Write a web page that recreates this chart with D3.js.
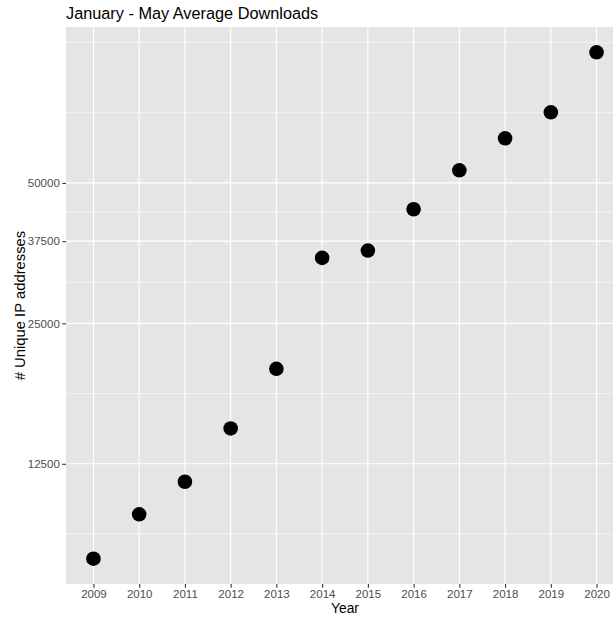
<!DOCTYPE html>
<html>
<head>
<meta charset="utf-8">
<script src="https://cdn.jsdelivr.net/npm/d3@7"></script>
<style>
  body { margin: 0; background: #fff; }
  text { font-family: "Liberation Sans", Arial, sans-serif; }
</style>
</head>
<body>
<div id="chart"></div>
<script>
// data
const years = ["2009", "2010", "2011", "2012", "2013", "2014", "2015", "2016", "2017", "2018", "2019", "2020"]
const ips = [7825, 9740, 11440, 14880, 19975, 34535, 35800, 43900, 53200, 62300, 70830, 95240]
const yBreaks = [12500, 25000, 37500, 50000]

const width = 613,
    height = 617
const margin = { top: 27, right: -11, bottom: 33, left: 66 }

const svg = d3.select("#chart")
    .append("svg")
    .attr("width", width)
    .attr("height", height)

const pw = width - margin.left - margin.right
const ph = height - margin.top - margin.bottom

const g = svg.append("g")
    .attr("transform", `translate(${margin.left},${margin.top})`)

// discrete x, like a factor in ggplot (0.6 units of padding)
const x = d3.scalePoint()
    .domain(years)
    .range([0, pw])
    .padding(0.6)

// log y with 5% expansion
const lo = Math.log10(d3.min(ips)), hi = Math.log10(d3.max(ips))
const pad = (hi - lo) * 0.05
const y = d3.scaleLog()
    .domain([Math.pow(10, lo - pad), Math.pow(10, hi + pad)])
    .range([ph, 0])

// minor breaks: midpoints in log space, extended by the first step
const lb = yBreaks.map(Math.log10)
const step = lb[1] - lb[0]
const ext = [lb[0] - step, ...lb, lb[lb.length - 1] + step]
const minor = []
for (let i = 0; i < ext.length - 1; i++) minor.push((ext[i] + ext[i + 1]) / 2)
const [dlo, dhi] = y.domain().map(Math.log10)
const minorVals = minor.concat(ext).filter(v => v > dlo && v < dhi && !lb.includes(v)).map(v => Math.pow(10, v))

g.append("rect")
    .attr("width", pw)
    .attr("height", ph)
    .attr("fill", "#E5E5E5")

g.selectAll(".minor")
    .data(minorVals)
    .join("line")
    .attr("x1", 0).attr("x2", pw)
    .attr("y1", d => y(d)).attr("y2", d => y(d))
    .attr("stroke", "#fff")
    .attr("stroke-width", 0.55)

g.selectAll(".hmajor")
    .data(yBreaks)
    .join("line")
    .attr("x1", 0).attr("x2", pw)
    .attr("y1", d => y(d)).attr("y2", d => y(d))
    .attr("stroke", "#fff")
    .attr("stroke-width", 1.1)

g.selectAll(".vmajor")
    .data(years)
    .join("line")
    .attr("x1", d => x(d)).attr("x2", d => x(d))
    .attr("y1", 0).attr("y2", ph)
    .attr("stroke", "#fff")
    .attr("stroke-width", 1.1)

// points
g.selectAll("circle")
    .data(years.map((yr, i) => ({ year: yr, value: ips[i] })))
    .join("circle")
    .attr("cx", d => x(d.year))
    .attr("cy", d => y(d.value))
    .attr("r", 7.3)
    .attr("fill", "#000")

// axes
const xAxis = g.append("g")
    .attr("transform", `translate(0,${ph})`)
    .call(d3.axisBottom(x).tickSize(3.7).tickPadding(2.5))
xAxis.select(".domain").remove()
xAxis.selectAll("line").attr("stroke", "#333").attr("stroke-width", 1.1)
xAxis.selectAll("text").attr("fill", "#4D4D4D").style("font-size", "11.5px")

const yAxis = g.append("g")
    .call(d3.axisLeft(y).tickValues(yBreaks).tickFormat(d3.format("d")).tickSize(3.7).tickPadding(2.5))
yAxis.select(".domain").remove()
yAxis.selectAll("line").attr("stroke", "#333").attr("stroke-width", 1.1)
yAxis.selectAll("text").attr("fill", "#4D4D4D").style("font-size", "11.5px")

// titles
svg.append("text")
    .attr("x", margin.left + pw / 2)
    .attr("y", 613)
    .attr("text-anchor", "middle")
    .style("font-size", "13.8px")
    .attr("fill", "#000")
    .text("Year")

svg.append("text")
    .attr("transform", `translate(24.5,${margin.top + ph / 2}) rotate(-90)`)
    .attr("text-anchor", "middle")
    .style("font-size", "14.8px")
    .attr("fill", "#000")
    .text("# Unique IP addresses")

svg.append("text")
    .attr("x", margin.left)
    .attr("y", 18.5)
    .style("font-size", "16.3px")
    .attr("fill", "#000")
    .text("January - May Average Downloads")
</script>
</body>
</html>
